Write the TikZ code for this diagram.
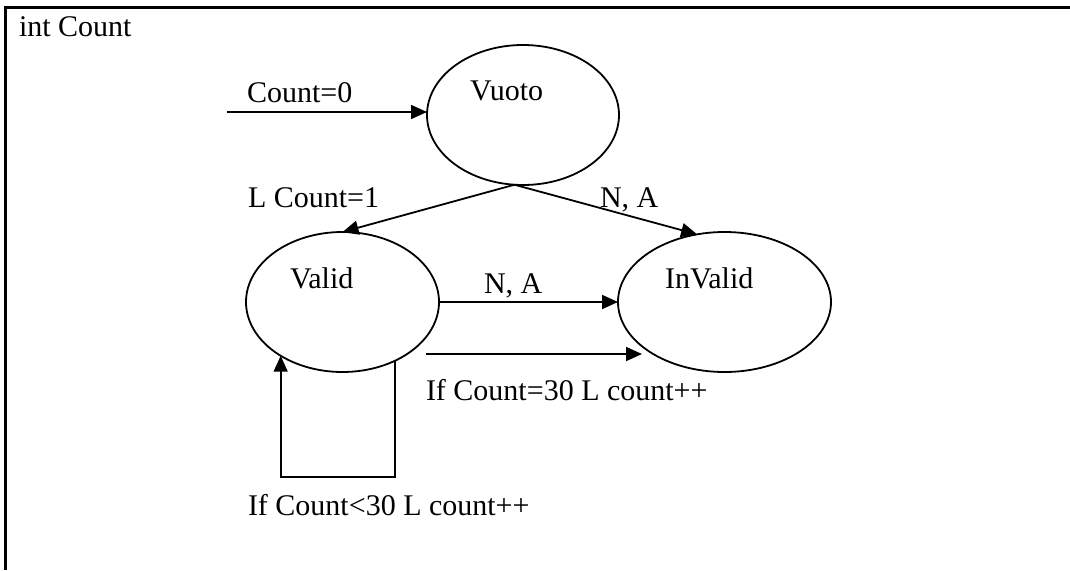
\documentclass[tikz,border=0pt]{standalone}
\usepackage{fontspec}
\setmainfont{Liberation Serif}
\usetikzlibrary{arrows.meta,shapes.geometric}

\tikzset{
  state/.style={draw, ellipse, line width=1.8pt, inner sep=0pt, outer sep=0pt},
  txt/.style={anchor=base west, inner sep=0pt, outer sep=0pt,
              font=\fontsize{30}{34}\selectfont},
  link/.style={line width=1.8pt, -{Triangle[length=16pt,width=14pt]}},
  frame/.style={line width=3pt}
}

\begin{document}
\begin{tikzpicture}[x=1pt, y=-1pt]
  \useasboundingbox (0,0) rectangle (1070,570);

  % open frame around the machine
  \draw[frame] (5,570) -- (5,7) -- (1070,7);
  \node[txt] (var) at (19,36) {int Count};

  % states
  \node[state, minimum width=192pt, minimum height=140pt] (vuoto)   at (523,115) {};
  \node[state, minimum width=193pt, minimum height=140pt] (valid)   at (342.5,302) {};
  \node[state, minimum width=213pt, minimum height=140pt] (invalid) at (724.5,302) {};

  \node[txt] (vuotoname)   at (470,100) {Vuoto};
  \node[txt] (validname)   at (290,288) {Valid};
  \node[txt] (invalidname) at (665,288) {InValid};

  % initial transition
  \coordinate (init) at (227,112);
  \draw[link] (init) -- (vuoto.west |- init);
  \node[txt] (initlbl) at (247,102) {Count=0};

  % transitions leaving Vuoto
  \draw[link] (vuoto.263) -- (valid.north);
  \node[txt] (lbl1) at (248,207) {L Count=1};
  \draw[link] (vuoto.263) -- (invalid.112);
  \node[txt] (lbl2) at (600,207) {N, A};

  % Valid -> InValid
  \draw[link] (valid.east) -- (invalid.west);
  \node[txt] (lbl3) at (484,293) {N, A};

  \coordinate (eqfrom) at (426,354);
  \coordinate (eqto)   at (642,354);
  \draw[link] (eqfrom) -- (eqto);
  \node[txt] (lbl4) at (426,400) {If Count=30 L count++};

  % self loop on Valid
  \coordinate (loopbot) at (0,477);
  \draw[link] (valid.312) -- (valid.312 |- loopbot) -| (valid.221);
  \node[txt] (lbl5) at (248,515) {If Count<30 L count++};
\end{tikzpicture}
\end{document}
